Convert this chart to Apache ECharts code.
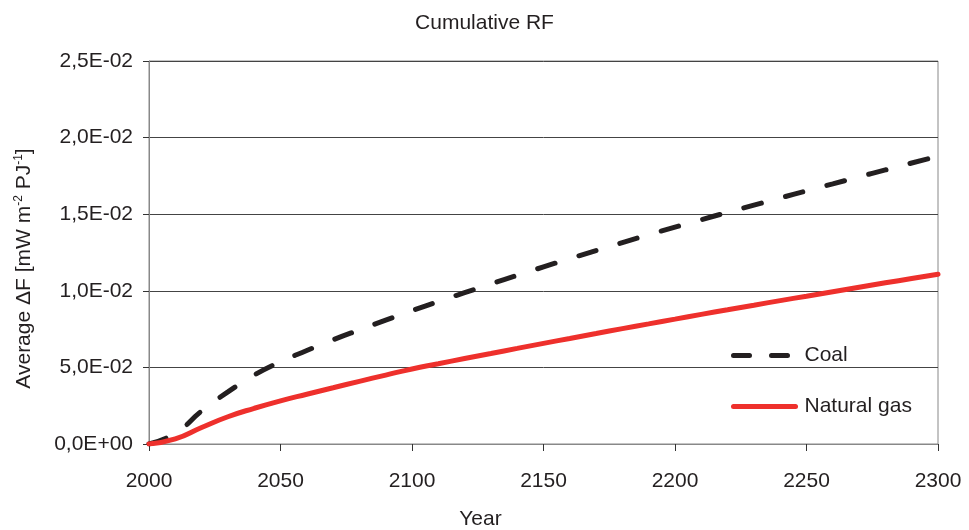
<!DOCTYPE html>
<html>
<head>
<meta charset="utf-8">
<script src="https://cdn.jsdelivr.net/npm/echarts@6/dist/echarts.min.js"></script>
<style>html,body{margin:0;padding:0;background:#fff}#c{width:969px;height:530px}</style>
</head>
<body>
<div id="c"></div>
<script>
var years = [2000, 2010, 2020, 2030, 2040, 2050, 2060, 2070, 2080, 2090, 2100, 2110, 2120, 2130, 2140, 2150, 2160, 2170, 2180, 2190, 2200, 2210, 2220, 2230, 2240, 2250, 2260, 2270, 2280, 2290, 2300];
var coal = [0, 0.0007, 0.00215, 0.0034, 0.0045, 0.00537, 0.00610, 0.00680, 0.00745, 0.00808, 0.00870, 0.00930, 0.00988, 0.01045, 0.01101, 0.01156, 0.01210, 0.01263, 0.01315, 0.01366, 0.01416, 0.01464, 0.01512, 0.01559, 0.01606, 0.01652, 0.01698, 0.01744, 0.01789, 0.01834, 0.01879];
var gas = [0, 0.00033, 0.00108, 0.00178, 0.00233, 0.00282, 0.00325, 0.00367, 0.00409, 0.00450, 0.00490, 0.00524, 0.00558, 0.00591, 0.00624, 0.00657, 0.00689, 0.00721, 0.00753, 0.00784, 0.00815, 0.00846, 0.00876, 0.00906, 0.00936, 0.00965, 0.00994, 0.01023, 0.01052, 0.01080, 0.01108];
var yTickLabels = ['0,0E+00', '5,0E-02', '1,0E-02', '1,5E-02', '2,0E-02', '2,5E-02'];
var seriesNames = ['Coal', 'Natural gas'];

function pairs(xs, ys) { return xs.map(function (x, i) { return [x, ys[i]]; }); }

var font = 'Liberation Sans, Arial, sans-serif';
var txt = '#231f20';
var fs = 21;
var chart = echarts.init(document.getElementById('c'));
chart.setOption({
  animation: false,
  backgroundColor: '#fff',
  title: {
    text: 'Cumulative RF', left: 'center', top: 8,
    textStyle: { fontFamily: font, fontSize: fs, fontWeight: 'normal', color: txt }
  },
  grid: { left: 149, right: 31, top: 61, bottom: 86, show: true, borderColor: '#888', borderWidth: 1, outerBoundsMode: 'none', containLabel: false },
  legend: {
    orient: 'vertical', left: 731, top: 345, itemWidth: 62, itemHeight: 20, itemGap: 30, padding: 0,
    itemStyle: { opacity: 0 },
    textStyle: { fontFamily: font, fontSize: fs, color: txt, padding: [0, 0, 0, 4] },
    data: [
      { name: 'Coal', lineStyle: { type: [16, 22], width: 5, cap: 'round', color: '#231f20' }, itemStyle: { opacity: 0 } },
      { name: 'Natural gas', lineStyle: { width: 5, cap: 'round', color: '#ee302c' }, itemStyle: { opacity: 0 } }
    ]
  },
  xAxis: {
    type: 'value', min: 2000, max: 2300, interval: 50,
    name: 'Year', nameLocation: 'middle', nameGap: 65,
    nameTextStyle: { fontFamily: font, fontSize: fs, color: txt, padding: [0, 126, 0, 0] },
    axisLine: { show: true, lineStyle: { color: '#888', width: 1 } },
    axisTick: { show: true, length: 7, lineStyle: { color: '#333' } },
    axisLabel: { fontFamily: font, fontSize: fs, color: txt, margin: 27, formatter: function (v) { return String(v); } },
    splitLine: { show: false }
  },
  yAxis: {
    type: 'value', min: 0, max: 0.025, interval: 0.005,
    name: '{n|Average ΔF [mW m}{s|-2}{n| PJ}{s|-1}{n|]}', nameLocation: 'middle', nameGap: 114, nameRotate: 90,
    nameTextStyle: {
      fontFamily: font, color: txt, padding: [0, 32, 0, 0],
      rich: {
        n: { fontFamily: font, fontSize: fs, color: txt },
        s: { fontFamily: font, fontSize: 12, color: txt, padding: [0, 0, 10, 0] }
      }
    },
    axisLine: { show: true, lineStyle: { color: '#888', width: 1 } },
    axisTick: { show: true, length: 6, lineStyle: { color: '#333' } },
    axisLabel: {
      fontFamily: font, fontSize: fs, color: txt, margin: 16,
      formatter: function (v) { return yTickLabels[Math.round(v / 0.005)]; }
    },
    splitLine: { show: true, lineStyle: { color: '#444', width: 1 } }
  },
  series: [
    {
      name: seriesNames[0], type: 'line', data: pairs(years, coal), smooth: 0.5, symbol: 'none', z: 3,
      lineStyle: { color: '#231f20', width: 5, type: [18, 25], cap: 'round' },
      itemStyle: { color: '#231f20' }
    },
    {
      name: seriesNames[1], type: 'line', data: pairs(years, gas), smooth: 0.5, symbol: 'none', z: 4,
      lineStyle: { color: '#ee302c', width: 5, cap: 'round' },
      itemStyle: { color: '#ee302c' }
    }
  ]
});
</script>
</body>
</html>
